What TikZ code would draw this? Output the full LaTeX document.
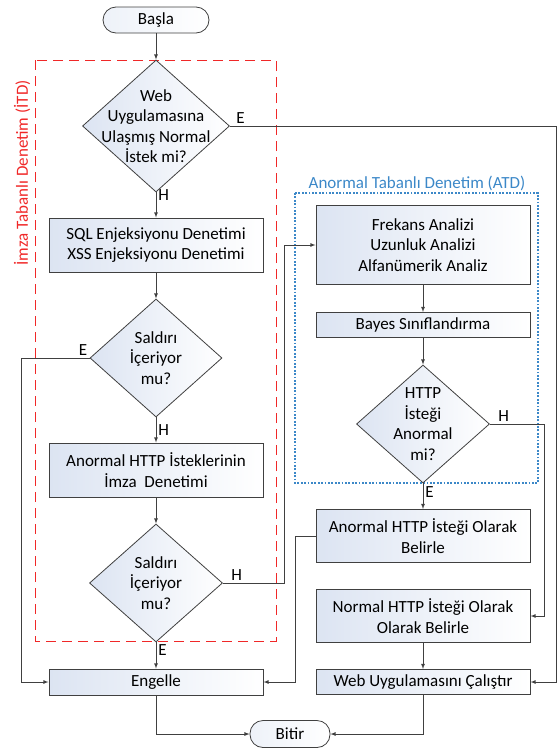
\documentclass[tikz,border=0pt]{standalone}
\usepackage{fontspec}
\setmainfont{Carlito}
\usepackage{tikz}
\usetikzlibrary{shapes.geometric}
\definecolor{cizgi}{HTML}{404040}
\definecolor{kutudolgu}{HTML}{DCE4F2}
\definecolor{itdkirmizi}{HTML}{F02828}
\definecolor{atdmavi}{HTML}{3C88C8}
\tikzstyle{islem} = [draw=cizgi, line width=1pt, rectangle, left color=kutudolgu, right color=white, align=center, inner sep=2pt, minimum width=214pt]
\tikzstyle{karar} = [draw=cizgi, line width=0.8pt, diamond, left color=kutudolgu, right color=white, inner sep=0pt]
\tikzstyle{uc} = [draw=cizgi, line width=0.8pt, rectangle, rounded corners=13pt, left color=kutudolgu!50, right color=white]
\tikzstyle{ok} = [draw=cizgi, line width=0.8pt, -latex]
\tikzstyle{cevap} = [inner sep=2pt]

\begin{document}
\begin{tikzpicture}[x=1pt, y=-1pt, font=\fontsize{17}{20.5}\selectfont]
	\useasboundingbox (0,0) rectangle (559,755);
	% denetim alanlari
	\draw[itdkirmizi, line width=1pt, dash pattern=on 10pt off 6pt] (35,60) rectangle (276,641);
	\node[rotate=90, text=itdkirmizi] (itd) at (22,173) {İmza Tabanlı Denetim (İTD)};
	\draw[atdmavi, line width=1.3pt, dash pattern=on 1.8pt off 1.6pt] (295,193) rectangle (538,483);
	\node[text=atdmavi] (atd) at (417,183) {Anormal Tabanlı Denetim (ATD)};

	% sol sutun
	\node[uc, minimum width=106pt, minimum height=26pt] (basla) at (156,20) {Başla};
	\node[karar, minimum width=147pt, minimum height=132pt, label={[align=center]center:Web\\Uygulamasına\\Ulaşmış Normal\\İstek mi?}] (karar1) at (156,126) {};
	\node[islem, minimum height=54pt] (sql) at (156,245) {SQL Enjeksiyonu Denetimi\\XSS Enjeksiyonu Denetimi};
	\node[karar, minimum width=132pt, minimum height=118pt, label={[align=center]center:Saldırı\\İçeriyor\\mu?}] (karar2) at (156,358) {};
	\node[islem, minimum height=54pt] (imza) at (156,470) {Anormal HTTP İsteklerinin\\İmza\ \ Denetimi};
	\node[karar, minimum width=133pt, minimum height=118pt, label={[align=center]center:Saldırı\\İçeriyor\\mu?}] (karar3) at (156,583) {};
	\node[islem, minimum height=26pt] (engelle) at (156,682) {Engelle};
	\node[uc, minimum width=80pt, minimum height=27pt] (bitir) at (290,734) {Bitir};

	% sag sutun
	\node[islem, minimum height=79pt] (frekans) at (423,245) {Frekans Analizi\\Uzunluk Analizi\\Alfanümerik Analiz};
	\node[islem, minimum height=25pt] (bayes) at (423,325) {Bayes Sınıflandırma};
	\node[karar, minimum width=133pt, minimum height=118pt, label={[align=center]center:HTTP\\İsteği\\Anormal\\mi?}] (karar4) at (423,424) {};
	\node[islem, minimum height=53pt] (anormal) at (423,536) {Anormal HTTP İsteği Olarak\\Belirle};
	\node[islem, minimum height=53pt] (normal) at (423,616) {Normal HTTP İsteği Olarak\\Olarak Belirle};
	\node[islem, minimum height=25pt] (web) at (423,682) {Web Uygulamasını Çalıştır};

	% baglantilar
	\draw[ok] (basla) -- (karar1);
	\draw[ok] (karar1) -- node[cevap, right, pos=0.1]{H} (sql);
	\draw[ok] (karar1.east) -| node[cevap, above right, pos=0, xshift=4pt]{E} ([xshift=26pt]web.east) -- (web.east);
	\draw[ok] (sql) -- (karar2);
	\draw[ok] (karar2) -- node[cevap, right, pos=0.5]{H} (imza);
	\draw[ok] (karar2.west) -| node[cevap, above left, pos=0]{E} ([xshift=-27pt]engelle.west) -- (engelle.west);
	\draw[ok] (imza) -- (karar3);
	\draw[ok] (karar3) -- node[cevap, right, pos=0.3]{E} (engelle);
	\draw[ok] (karar3.east) -| node[cevap, above right, pos=0, xshift=6pt]{H} ([xshift=-31pt]frekans.west) -- (frekans.west);
	\draw[ok] (engelle.south) |- (bitir.west);
	\draw[ok] (frekans) -- (bayes);
	\draw[ok] (bayes) -- (karar4);
	\draw[ok] (karar4) -- node[cevap, right, pos=0.35]{E} (anormal);
	\draw[ok] (karar4.east) -| node[cevap, above right, pos=0, xshift=6pt]{H} ([xshift=14pt]normal.east) -- (normal.east);
	\draw[ok] (anormal.west) -| ([xshift=32pt]engelle.east) -- (engelle.east);
	\draw[ok] (normal) -- (web);
	\draw[ok] (web.south) |- (bitir.east);
\end{tikzpicture}
\end{document}
